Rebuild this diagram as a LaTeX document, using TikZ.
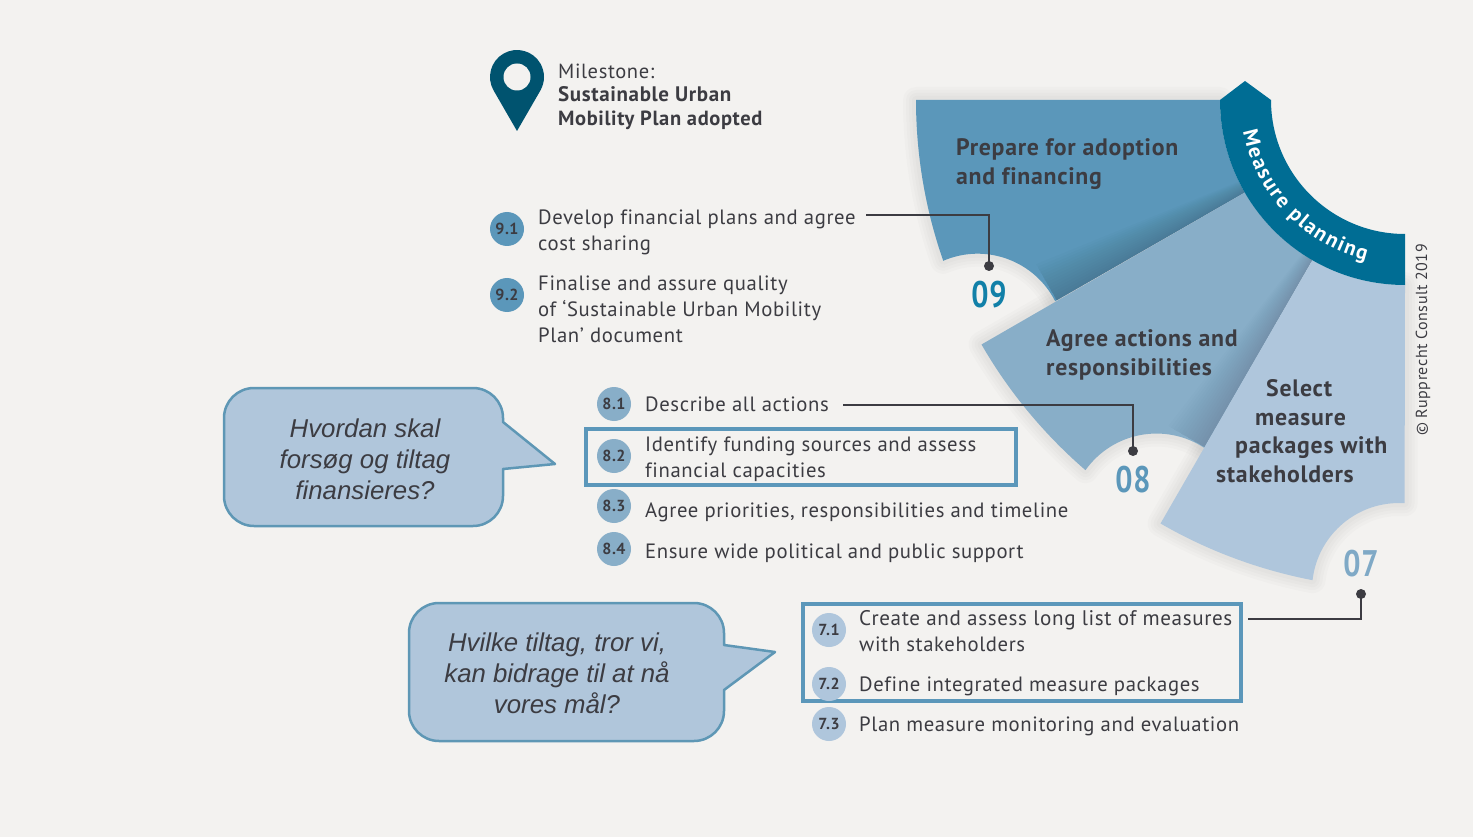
\documentclass[tikz,border=0pt]{standalone}
\usepackage{fontspec}
\setmainfont{PT Sans}[LetterSpace=3,Ligatures=NoCommon]
\newfontfamily\ariali{Liberation Sans}[ItalicFont=* Italic]
\usetikzlibrary{calc}
\definecolor{bgc}{HTML}{F3F2F0}
\definecolor{secA}{HTML}{5B97BA}
\definecolor{secB}{HTML}{88AEC8}
\definecolor{secC}{HTML}{AFC6DC}
\definecolor{bandc}{HTML}{006D94}
\definecolor{pinc}{HTML}{00536F}
\definecolor{ink}{HTML}{3C3C42}
\definecolor{bub}{HTML}{B0C6DB}
\definecolor{bubl}{HTML}{5E97B5}
\definecolor{numA}{HTML}{1180A8}
\definecolor{numC}{HTML}{7FA9C6}
\def\pA{(1220,100) -- (916,100) arc[start angle=180,end angle=199.2,radius=489pt] arc[start angle=113.3,end angle=27,radius=87pt] -- (1244.8,192.5) arc[start angle=210,end angle=180,radius=185pt] -- cycle}
\def\pB{(1244.8,192.5) -- (981.5,344.5) arc[start angle=210,end angle=229.2,radius=489pt] arc[start angle=144.6,end angle=56.5,radius=87pt] -- (1312.5,260) arc[start angle=240,end angle=210,radius=185pt] -- cycle}
\def\pC{(1312.5,260) -- (1160.5,523.5) arc[start angle=240,end angle=259.1,radius=489pt] arc[start angle=173.5,end angle=86.3,radius=87pt] -- (1405,285) arc[start angle=270,end angle=240,radius=185pt] -- cycle}
\tikzset{
 body/.style={anchor=west,align=left,text=ink,font=\fontsize{20.7}{26}\selectfont,inner sep=0pt},
 head/.style={anchor=west,align=left,text=ink,font=\fontsize{23.8}{28.5}\selectfont\bfseries,inner sep=0pt},
 mile/.style={anchor=west,align=left,text=ink,font=\fontsize{20.5}{23.5}\selectfont,inner sep=0pt},
 num/.style={text=#1,font=\fontsize{33}{33}\selectfont\bfseries,inner sep=0pt},
 bullet/.style={circle,fill=#1,minimum size=34pt,inner sep=0pt,text=ink,font=\fontsize{16}{16}\selectfont\bfseries},
 framebox/.style={draw=secA,line width=4pt},
 conn/.style={draw=ink,line width=2.5pt},
 dot/.style={circle,fill=ink,minimum size=10pt,inner sep=0pt},
 bubble/.style={fill=bub,draw=bubl,line width=2.5pt,line join=round},
 bubtext/.style={align=center,text=ink,inner sep=0pt,font=\ariali\itshape\fontsize{25.8}{31}\selectfont},
 bandletter/.style={anchor=base,inner sep=0pt,text=white,font=\fontsize{21}{24}\selectfont\bfseries},
}
\begin{document}
\begin{tikzpicture}[x=1pt,y=-1pt]
\fill[bgc] (0,0) rectangle (1473,837);
\useasboundingbox (0,0) rectangle (1473,837);
% soft outer shadow
\foreach \w in {26,20,14,8}{
 \draw[black,opacity=.014,line width=\w pt,line join=round] \pA;
 \draw[black,opacity=.014,line width=\w pt,line join=round] \pB;
 \draw[black,opacity=.014,line width=\w pt,line join=round] \pC;
}
% sector 09
\fill[secA] \pA;
\begin{scope}
 \clip \pA;
 \foreach \w in {3,6,...,42}{
  \fill[black,opacity=.011] (1244.8,192.5) -- (1057,300.5) -- ($(1057,300.5)+(120:\w pt)$) -- ($(1244.8,192.5)+(120:.3*\w pt)$) -- cycle;
 }
\end{scope}
% sector 08
\fill[secB] \pB;
\begin{scope}
 \clip \pB;
 \foreach \w in {3,6,...,42}{
  \fill[black,opacity=.008] (1312.5,260) -- (1204.5,447) -- ($(1204.5,447)+(150:\w pt)$) -- ($(1312.5,260)+(150:.3*\w pt)$) -- cycle;
 }
\end{scope}
% sector 07
\fill[secC] \pC;
% band
\fill[bandc] (1220,100) -- (1245,81) -- (1271,100) arc[start angle=180,end angle=270,radius=134pt] -- (1405,285) arc[start angle=270,end angle=180,radius=185pt] -- cycle;
\foreach \c/\a [count=\k] in {M/194.0,e/199.4,a/203.7,s/207.7,u/211.8,r/215.8,e/219.7,p/226.6,l/230.2,a/233.6,n/238.0,n/242.7,i/246.3,n/249.9,g/254.3}{
 \node[bandletter,rotate=\a+90] (mp\k) at ($(1405,100)+(\a:165pt)$) {\c};
}
% pin
\fill[pinc] (517,131) -- ($(517,77)+(210:27pt)$) arc[start angle=210,end angle=-30,radius=27pt] -- cycle;
\fill[bgc] (517,77) circle[radius=13.5pt];
\node[mile] (milestone) at (558,96.5) {Milestone:\\\textbf{\fontsize{21}{23.5}\selectfont Sustainable Urban}\\\textbf{Mobility Plan adopted}};
% sector heads
\node[head] (h9) at (956,164) {Prepare for adoption\\and financing};
\node[head] (h8) at (1046,355) {Agree actions and\\responsibilities};
\node[head] (h7) at (1216,431) {\hspace*{50pt}Select\\\hspace*{39pt}measure\\\hspace*{19pt}packages with\\stakeholders};
\node[num=numA,xscale=.92,yscale=1.12] (n9) at (989,295) {09};
\node[num=secA,xscale=.92,yscale=1.12] (n8) at (1133,480) {08};
\node[num=numC,xscale=.92,yscale=1.12] (n7) at (1361,564) {07};
% step 9
\node[bullet=secA] (b91) at (507,229) {9.1};
\node[bullet=secA] (b92) at (507,295) {9.2};
\node[body] (t91) at (538,232) {Develop financial plans and agree\\cost sharing};
\node[body] (t92) at (538,309) {Finalise and assure quality\\of ‘Sustainable Urban Mobility\\Plan’ document};
% step 8
\node[bullet=secB] (b81) at (614,404) {8.1};
\draw[framebox] (586,429) rectangle (1016,485);
\node[bullet=secB] (b82) at (614,456) {8.2};
\node[bullet=secB] (b83) at (614,506) {8.3};
\node[bullet=secB] (b84) at (614,549) {8.4};
\node[body] (t81) at (645,404) {Describe all actions};
\node[body] (t82) at (645,459) {Identify funding sources and assess\\financial capacities};
\node[body] (t83) at (645,512) {Agree priorities, responsibilities and timeline};
\node[body] (t84) at (645,553) {Ensure wide political and public support};
% step 7
\draw[framebox] (803,604) rectangle (1241,701);
\node[bullet=secC] (b71) at (829,630) {7.1};
\node[bullet=secC] (b72) at (829,684) {7.2};
\node[bullet=secC] (b73) at (829,724) {7.3};
\node[body] (t71) at (859,631) {{\fontsize{21.1}{26}\selectfont Create and assess long list of measures}\\with stakeholders};
\node[body] (t72) at (859,686) {Define integrated measure packages};
\node[body] (t73) at (859,726) {Plan measure monitoring and evaluation};
% connectors
\coordinate (c9) at (866,215);
\coordinate (c8) at (843,405);
\coordinate (c7) at (1248,619);
\node[dot] (d9) at (989,266) {};
\node[dot] (d8) at (1133,451) {};
\node[dot] (d7) at (1361,594) {};
\draw[conn] (c9) -| (d9.center);
\draw[conn] (c8) -| (d8.center);
\draw[conn] (c7) -| (d7.center);
% bubbles
\draw[bubble] (254,388) -- (473,388) arc[start angle=90,end angle=0,radius=30pt] -- (503,422) -- (555,464) -- (503,469) -- (503,496) arc[start angle=0,end angle=-90,radius=30pt] -- (254,526) arc[start angle=270,end angle=180,radius=30pt] -- (224,418) arc[start angle=180,end angle=90,radius=30pt] -- cycle;
\node[bubtext] (q1) at (365,459) {Hvordan skal\\forsøg og tiltag\\finansieres?};
\draw[bubble] (439,603) -- (694,603) arc[start angle=90,end angle=0,radius=30pt] -- (724,645) -- (775,652) -- (724,690) -- (724,711) arc[start angle=0,end angle=-90,radius=30pt] -- (439,741) arc[start angle=270,end angle=180,radius=30pt] -- (409,633) arc[start angle=180,end angle=90,radius=30pt] -- cycle;
\node[bubtext] (q2) at (557,673) {Hvilke tiltag, tror vi,\\kan bidrage til at nå\\vores mål?};
% copyright
\node[rotate=90,inner sep=0pt,text=ink,font=\fontsize{16}{16}\selectfont] (copy) at (1423,340) {© Rupprecht Consult 2019};
\end{tikzpicture}
\end{document}
